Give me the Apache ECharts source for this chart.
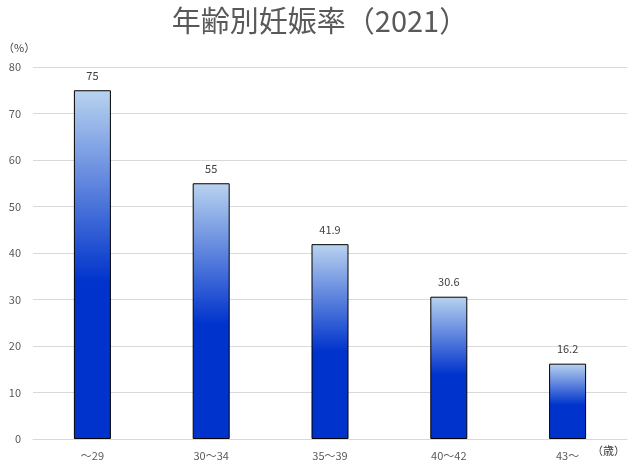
<!DOCTYPE html>
<html><head><meta charset="utf-8">
<script src="https://cdn.jsdelivr.net/npm/echarts@6/dist/echarts.min.js"></script>
<style>html,body{margin:0;padding:0;background:#fff}#c{width:640px;height:470px}</style>
</head><body><div id="c"></div>
<script>
const categories = ['～29', '30～34', '35～39', '40～42', '43～'];
const values = [75, 55, 41.9, 30.6, 16.2];
const yTicks = [0, 10, 20, 30, 40, 50, 60, 70, 80];

const font = '"Noto Sans CJK JP", "Noto Sans", sans-serif';
const chart = echarts.init(document.getElementById('c'));
chart.setOption({
  animation: false,
  title: {
    text: '年齢別妊娠率（2021）', left: 'center', top: 1,
    textStyle: { fontFamily: font, fontSize: 29, fontWeight: 'normal', color: '#595959' }
  },
  graphic: [{
    type: 'text', left: 592, top: 445,
    style: { text: '（歳）', fontFamily: font, fontSize: 11, fill: '#404040' }
  }],
  grid: { left: 30, right: 13, top: 67, bottom: 31, containLabel: false },
  xAxis: {
    type: 'category', data: categories,
    axisLine: { lineStyle: { color: '#d9d9d9' } },
    axisTick: { show: false },
    axisLabel: { fontFamily: font, fontSize: 11, color: '#595959', margin: 11 }
  },
  yAxis: {
    type: 'value', min: yTicks[0], max: yTicks[yTicks.length - 1], interval: 10,
    name: '（%）', nameGap: 14,
    nameTextStyle: { fontFamily: font, fontSize: 11, color: '#404040', align: 'left', padding: [0, 0, 0, -30] },
    axisLine: { show: false }, axisTick: { show: false },
    axisLabel: { fontFamily: font, fontSize: 11, color: '#595959', margin: 12 },
    splitLine: { lineStyle: { color: '#d9d9d9' } }
  },
  series: [{
    type: 'bar', data: values, barWidth: 37,
    itemStyle: {
      borderColor: '#000', borderWidth: 1,
      color: new echarts.graphic.LinearGradient(0, 0, 0, 1, [
        { offset: 0, color: '#b9d3ef' },
        { offset: 0.55, color: '#0033cc' },
        { offset: 1, color: '#0033cc' }
      ])
    },
    label: { show: true, position: 'top', distance: 9, fontFamily: font, fontSize: 11, color: '#404040' }
  }]
});
</script></body></html>
